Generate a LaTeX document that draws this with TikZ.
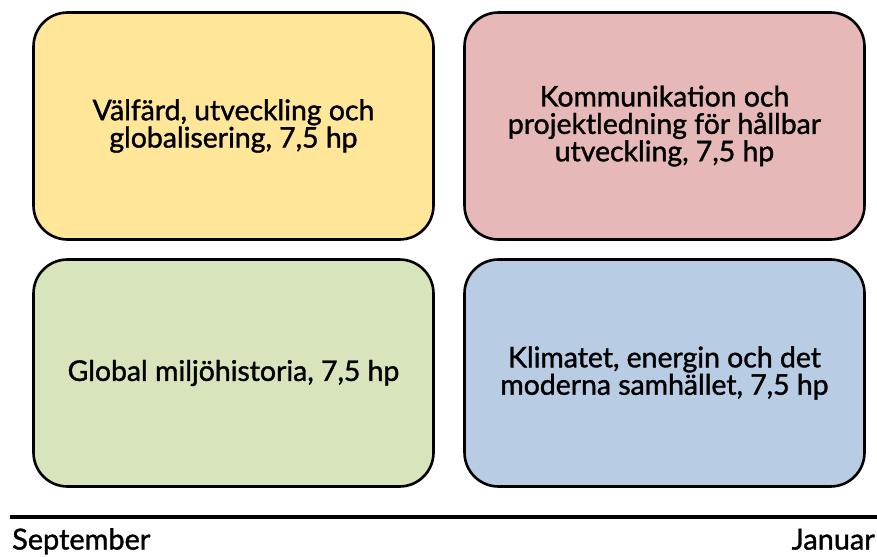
\documentclass[tikz,border=0pt]{standalone}
\usepackage{fontspec}
\setmainfont{Lato}
\newfontfamily\medfont{Lato}[FakeBold=1.3]
\definecolor{cyellow}{HTML}{FFE699}
\definecolor{cpink}{HTML}{E6B9B8}
\definecolor{cgreen}{HTML}{D8E4BC}
\definecolor{cblue}{HTML}{B8CCE4}
\begin{document}
\begin{tikzpicture}[x=1bp,y=-1bp,
  course/.style={draw=black,line width=2.6bp,rounded corners=34bp,minimum width=400bp,minimum height=227bp,
    align=center,font=\medfont\fontsize{28.5}{27.5}\selectfont,inner sep=0pt},
  month/.style={font=\medfont\fontsize{29}{29}\selectfont,inner sep=0pt}]
\useasboundingbox (0,0) rectangle (877,557);
\node[course,fill=cyellow] (a) at (233.5,126) {Välfärd, utveckling och\\globalisering, 7,5 hp};
\node[course,fill=cpink] (b) at (664.5,126) {Kommunikation och\\projektledning för hållbar\\utveckling, 7,5 hp};
\node[course,fill=cgreen] (c) at (233.5,373) {Global miljöhistoria, 7,5 hp};
\node[course,fill=cblue] (d) at (664.5,373) {Klimatet, energin och det\\moderna samhället, 7,5 hp};
\coordinate (l1) at (10,517);
\coordinate (l2) at (877,517);
\draw[line width=4bp] (l1) -- (l2);
\node[month,anchor=base west] (sep) at (12,549.5) {September};
\node[month,anchor=base east] (jan) at (875,549.5) {Januar};
\end{tikzpicture}
\end{document}
